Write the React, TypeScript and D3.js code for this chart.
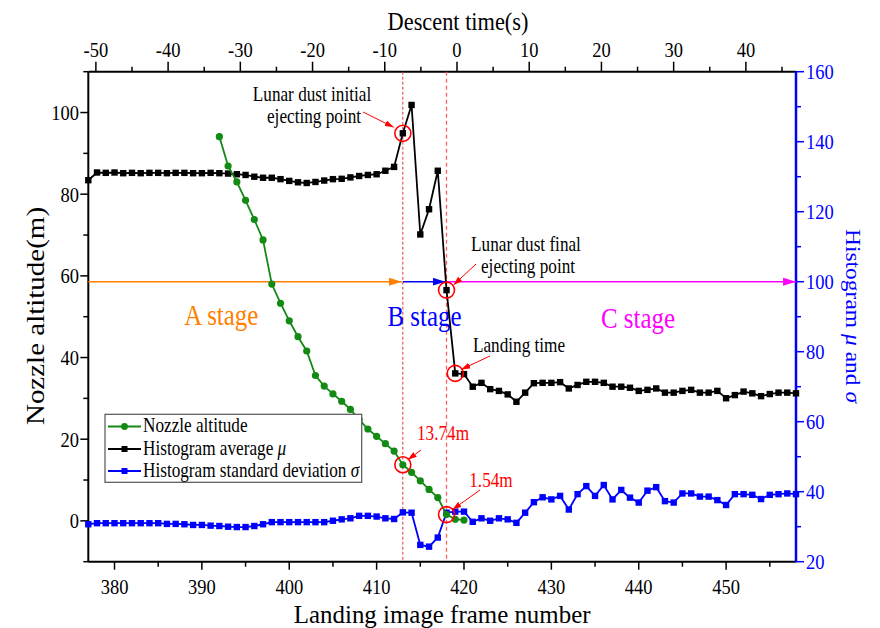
import React, { useEffect, useRef } from 'react';
import * as d3 from 'd3';

// frame numbers
const frameDomain = [377, 458];
const descentTimeDomain = [-51.05, 46.94];
const leftDomain = [-10, 110];
const rightDomain = [20, 160];

const frameTicks = [380, 390, 400, 410, 420, 430, 440, 450];
const timeTicks = [-50, -40, -30, -20, -10, 0, 10, 20, 30, 40];
const altitudeTicks = [0, 20, 40, 60, 80, 100];
const histTicks = [20, 40, 60, 80, 100, 120, 140, 160];

const nozzleFrames = d3.range(392, 421);
const nozzleAltitude = [94.1, 86.9, 83.0, 78.5, 73.8, 68.8, 58.0, 53.3, 49.0, 45.1, 41.6, 35.6, 33.0, 31.1, 29.3, 27.3, 24.8, 22.5, 20.7, 18.9, 17.1, 13.74, 11.9, 9.8, 7.7, 5.7, 1.54, 0.4, 0.2];

const histFrames = d3.range(377, 459);
const histMean = [
  129.0, 131.2, 131.1, 131.2, 131.0, 131.1, 131.0, 131.1, 131.1, 131.0,
  131.1, 131.1, 131.0, 131.0, 131.1, 131.0, 130.9, 130.7, 130.5, 130.0,
  129.7, 129.7, 129.3, 128.8, 128.4, 128.2, 128.5, 128.9, 129.3, 129.4,
  129.8, 130.2, 130.5, 130.7, 131.7, 132.8, 142.4, 150.5, 113.5, 120.7,
  131.7, 97.6, 73.8, 73.6, 70.0, 71.1, 69.3, 68.8, 67.8, 65.7,
  68.3, 71.0, 71.1, 71.1, 71.3, 69.5, 70.5, 71.4, 71.4, 71.1,
  70.0, 70.0, 69.7, 68.8, 69.1, 69.5, 68.3, 68.3, 68.8, 69.1,
  68.3, 68.3, 68.8, 66.7, 67.6, 68.6, 68.1, 67.3, 67.9, 68.3,
  68.3, 68.1,
];
const histStd = [
  30.7, 31.0, 31.0, 31.0, 31.0, 31.0, 31.0, 31.0, 31.0, 30.8,
  30.8, 30.7, 30.5, 30.5, 30.3, 30.2, 30.0, 29.9, 29.9, 30.2,
  30.7, 31.3, 31.3, 31.3, 31.3, 31.3, 31.3, 31.3, 31.7, 32.1,
  32.4, 33.1, 33.1, 32.9, 32.4, 32.2, 34.1, 34.0, 24.8, 24.3,
  26.9, 34.0, 34.3, 34.3, 31.4, 32.4, 31.7, 32.4, 32.1, 31.1,
  34.0, 37.0, 38.4, 37.8, 38.8, 34.9, 39.3, 41.6, 38.8, 41.9,
  37.8, 40.5, 38.3, 36.9, 40.3, 41.3, 37.3, 36.9, 39.5, 39.5,
  38.6, 38.6, 37.6, 36.2, 39.3, 39.3, 39.1, 37.9, 39.1, 39.3,
  39.5, 39.3,
];

const initialEjectFrame = 413;
const finalEjectFrame = 418;
const landingFrame = 419;
const stageLevel = 100;

const W = 880, H = 628;
const margin = { left: 88.3, right: 880 - 796, top: 71.7, bottom: 628 - 561.7 };
const FONT = 'Liberation Serif, Times New Roman, serif';
const SX = 0.86; // the figure is a bit stretched vertically

const App = () => {
  const ref = useRef<SVGSVGElement>(null);

  useEffect(() => {
    const svg = d3.select(ref.current);
    svg.selectAll('*').remove();

    const x = d3.scaleLinear().domain(frameDomain).range([margin.left, W - margin.right]);
    const xTop = d3.scaleLinear().domain(descentTimeDomain).range([margin.left, W - margin.right]);
    const yL = d3.scaleLinear().domain(leftDomain).range([H - margin.bottom, margin.top]);
    const yR = d3.scaleLinear().domain(rightDomain).range([H - margin.bottom, margin.top]);

    // text helper: parts = [[text, italic?], ...]
    const txt = (tx, ty, parts, size, fill = '#000', anchor = 'middle', rot = 0) => {
      const tf = rot === 0
        ? `translate(${tx},${ty}) scale(${SX},1)`
        : `translate(${tx},${ty}) rotate(${rot}) scale(1,${SX})`;
      const t = svg.append('text').attr('transform', tf).attr('text-anchor', anchor)
        .style('font-family', FONT).attr('font-size', size).attr('fill', fill);
      (typeof parts === 'string' ? [[parts, false]] : parts).forEach(([s, it]) => {
        const sp = t.append('tspan').text(s);
        if (it) sp.attr('font-style', 'italic');
      });
      return t;
    };

    const defs = svg.append('defs');
    const arrow = (id, color, w, h) => {
      defs.append('marker')
        .attr('id', id).attr('viewBox', `0 0 ${w} ${h}`)
        .attr('refX', w).attr('refY', h / 2)
        .attr('markerWidth', w).attr('markerHeight', h)
        .attr('markerUnits', 'userSpaceOnUse').attr('orient', 'auto')
        .append('path').attr('d', `M0,0L${w},${h / 2}L0,${h}Z`).attr('fill', color);
    };
    arrow('arOrange', '#ff8000', 13, 8);
    arrow('arBlue', '#0000ff', 13, 8);
    arrow('arMagenta', '#ff00ff', 13, 8);
    arrow('arRed', '#ff0000', 9, 6);

    // ticks
    const tick = (x1, y1, x2, y2, c = '#000') => svg.append('line').attr('x1', x1).attr('y1', y1)
      .attr('x2', x2).attr('y2', y2).attr('stroke', c).attr('stroke-width', 1.5);
    const yBot = H - margin.bottom, yTopA = margin.top, xL = margin.left, xR = W - margin.right;

    d3.range(380, 458, 5).forEach(f => tick(x(f), yBot, x(f), yBot + (f % 10 === 0 ? 8 : 5)));
    frameTicks.forEach(f => txt(x(f), 594, String(f), 21.5));

    d3.range(-50, 47, 5).forEach(t => tick(xTop(t), yTopA, xTop(t), yTopA - (t % 10 === 0 ? 10 : 5)));
    timeTicks.forEach(t => txt(xTop(t), 56.5, String(t), 21.5));

    d3.range(-10, 111, 10).forEach(v => tick(xL, yL(v), xL - (v % 20 === 0 ? 8 : 5), yL(v)));
    altitudeTicks.forEach(v => txt(79, yL(v) + 7.5, String(v), 21.5, '#000', 'end'));

    d3.range(20, 161, 10).forEach(v => tick(xR, yR(v), xR + (v % 20 === 0 ? 8 : 5), yR(v), '#0000ff'));
    histTicks.forEach(v => txt(806, yR(v) + 7.5, String(v), 21.5, '#0000ff', 'start'));

    // frame lines
    svg.append('line').attr('x1', xL).attr('x2', xR).attr('y1', yBot).attr('y2', yBot).attr('stroke', '#000').attr('stroke-width', 2);
    svg.append('line').attr('x1', xL).attr('x2', xR).attr('y1', yTopA).attr('y2', yTopA).attr('stroke', '#000').attr('stroke-width', 2);
    svg.append('line').attr('x1', xL).attr('x2', xL).attr('y1', yTopA).attr('y2', yBot).attr('stroke', '#000').attr('stroke-width', 2);
    svg.append('line').attr('x1', xR).attr('x2', xR).attr('y1', yTopA).attr('y2', yBot).attr('stroke', '#0000ff').attr('stroke-width', 2.5);

    // axis titles
    txt((xL + xR) / 2, 622.5, 'Landing image frame number', 25.5).attr('textLength', 345).attr('lengthAdjust', 'spacingAndGlyphs');
    txt(458, 30, 'Descent time(s)', 26);
    txt(44, 316, 'Nozzle altitude(m)', 29, '#000', 'middle', -90);
    txt(846, 316, [['Histogram ', false], ['μ', true], [' and ', false], ['σ', true]], 23.5, '#0000ff', 'middle', 90);

    // dashed stage boundaries
    svg.append('line').attr('x1', x(initialEjectFrame)).attr('x2', x(initialEjectFrame))
      .attr('y1', yTopA).attr('y2', yBot)
      .attr('stroke', '#e03a3a').attr('stroke-width', 1).attr('stroke-dasharray', '3,2');
    svg.append('line').attr('x1', x(finalEjectFrame)).attr('x2', x(finalEjectFrame))
      .attr('y1', yTopA).attr('y2', yBot)
      .attr('stroke', '#ff6060').attr('stroke-width', 1.3).attr('stroke-dasharray', '4,3');

    // stage arrows
    const yS = yR(stageLevel);
    svg.append('line').attr('x1', xL).attr('x2', x(initialEjectFrame) - 1).attr('y1', yS).attr('y2', yS)
      .attr('stroke', '#ff8000').attr('stroke-width', 1.6).attr('marker-end', 'url(#arOrange)');
    svg.append('line').attr('x1', x(initialEjectFrame)).attr('x2', x(finalEjectFrame) - 1).attr('y1', yS).attr('y2', yS)
      .attr('stroke', '#0000ff').attr('stroke-width', 1.6).attr('marker-end', 'url(#arBlue)');
    svg.append('line').attr('x1', x(finalEjectFrame)).attr('x2', xR).attr('y1', yS).attr('y2', yS)
      .attr('stroke', '#ff00ff').attr('stroke-width', 1.6).attr('marker-end', 'url(#arMagenta)');

    txt(221.3, 325, 'A stage', 29, '#ff8000');
    txt(424.5, 325.5, 'B stage', 29, '#0000ff');
    txt(638, 328.3, 'C stage', 29, '#ff00ff');

    // series
    const lineL = d3.line<number>().x((d, i) => x(nozzleFrames[i])).y(d => yL(d));
    const lineMu = d3.line<number>().x((d, i) => x(histFrames[i])).y(d => yR(d));

    svg.append('path').datum(histStd).attr('d', lineMu).attr('fill', 'none').attr('stroke', '#0000ff').attr('stroke-width', 1.8);
    svg.append('g').selectAll('rect').data(histStd).enter().append('rect')
      .attr('x', (d, i) => x(histFrames[i]) - 3.2).attr('y', d => yR(d) - 3.2).attr('width', 6.4).attr('height', 6.4).attr('fill', '#0000ff');

    svg.append('path').datum(histMean).attr('d', lineMu).attr('fill', 'none').attr('stroke', '#000').attr('stroke-width', 1.8);
    svg.append('g').selectAll('rect').data(histMean).enter().append('rect')
      .attr('x', (d, i) => x(histFrames[i]) - 3.2).attr('y', d => yR(d) - 3.2).attr('width', 6.4).attr('height', 6.4).attr('fill', '#000');

    svg.append('path').datum(nozzleAltitude).attr('d', lineL).attr('fill', 'none').attr('stroke', '#138a13').attr('stroke-width', 1.8);
    svg.append('g').selectAll('circle').data(nozzleAltitude).enter().append('circle')
      .attr('cx', (d, i) => x(nozzleFrames[i])).attr('cy', d => yL(d)).attr('r', 3.6).attr('fill', '#138a13');

    // annotations
    const circ = (cx, cy) => svg.append('circle').attr('cx', cx).attr('cy', cy).attr('r', 8)
      .attr('fill', 'none').attr('stroke', '#ff0000').attr('stroke-width', 1.6);
    const redArrow = (x1, y1, x2, y2) => svg.append('line').attr('x1', x1).attr('y1', y1).attr('x2', x2).attr('y2', y2)
      .attr('stroke', '#ff0000').attr('stroke-width', 1).attr('marker-end', 'url(#arRed)');

    const iMu413 = histFrames.indexOf(initialEjectFrame);
    const iMu418 = histFrames.indexOf(finalEjectFrame);
    const iMu419 = histFrames.indexOf(landingFrame);
    const iN413 = nozzleFrames.indexOf(initialEjectFrame);
    const iN418 = nozzleFrames.indexOf(finalEjectFrame);

    let cx = x(initialEjectFrame), cy = yR(histMean[iMu413]);
    circ(cx, cy); redArrow(363, 112, cx - 9, cy - 6);
    txt(312, 100.7, 'Lunar dust initial', 20);
    txt(314, 123.3, 'ejecting point', 20);

    cx = x(finalEjectFrame); cy = yR(histMean[iMu418]);
    circ(cx, cy); redArrow(476, 264, cx + 7, cy - 5);
    txt(526, 250.7, 'Lunar dust final', 20);
    txt(528, 273.3, 'ejecting point', 20);

    cx = x(landingFrame); cy = yR(histMean[iMu419]);
    circ(cx, cy); redArrow(490, 356, cx + 6, cy - 4);
    txt(519, 351.7, 'Landing time', 20);

    cx = x(initialEjectFrame); cy = yL(nozzleAltitude[iN413]);
    circ(cx, cy); redArrow(421, 450, cx + 5, cy - 5);
    txt(443, 440, '13.74m', 20, '#ff0000');

    cx = x(finalEjectFrame); cy = yL(nozzleAltitude[iN418]);
    circ(cx, cy); redArrow(480, 490, cx + 6, cy - 5);
    txt(491, 486.7, '1.54m', 20, '#ff0000');

    // legend
    svg.append('rect').attr('x', 105).attr('y', 414.3).attr('width', 256.7).attr('height', 68)
      .attr('fill', '#fff').attr('stroke', '#555').attr('stroke-width', 1.2);
    const items = [
      { label: [['Nozzle altitude', false]], color: '#138a13', shape: 'circle', y: 426.5 },
      { label: [['Histogram average ', false], ['μ', true]], color: '#000', shape: 'rect', y: 449 },
      { label: [['Histogram standard deviation ', false], ['σ', true]], color: '#0000ff', shape: 'rect', y: 471 },
    ];
    items.forEach(it => {
      svg.append('line').attr('x1', 108).attr('x2', 141).attr('y1', it.y).attr('y2', it.y)
        .attr('stroke', it.color).attr('stroke-width', 1.8);
      if (it.shape === 'circle') svg.append('circle').attr('cx', 124.5).attr('cy', it.y).attr('r', 3.4).attr('fill', it.color);
      else svg.append('rect').attr('x', 121.5).attr('y', it.y - 3).attr('width', 6).attr('height', 6).attr('fill', it.color);
      txt(143, it.y + 5.5, it.label, 20, '#000', 'start');
    });
  }, []);

  return (
    <div style={{ position: 'absolute', left: 0, top: 0 }}>
      <svg ref={ref} width={W} height={H} style={{ display: 'block', background: '#fff' }} />
    </div>
  );
};

export default App;
